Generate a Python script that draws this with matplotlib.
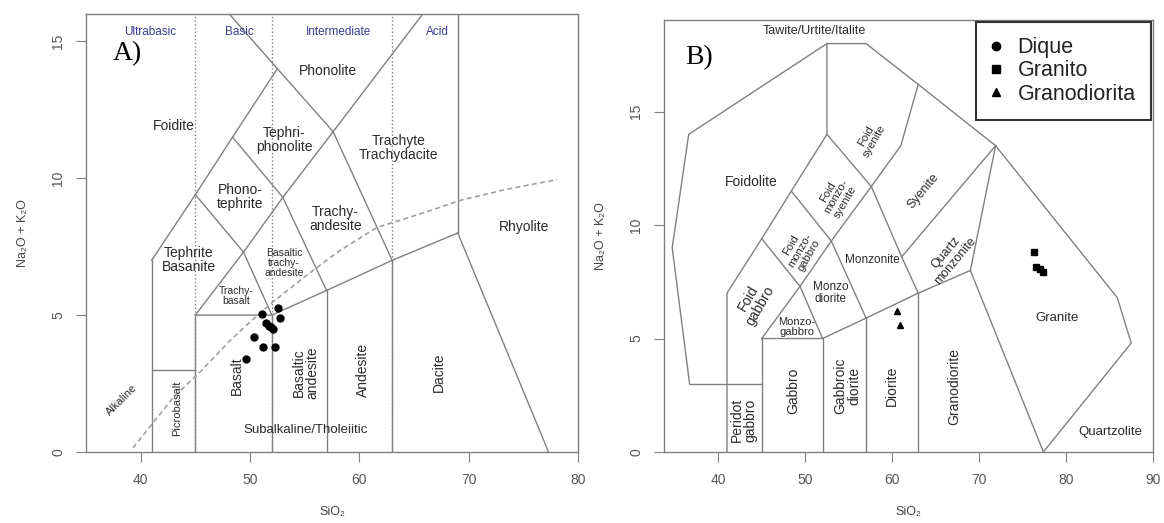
import matplotlib.pyplot as plt
from matplotlib.lines import Line2D

plt.rcParams['font.family'] = ['Liberation Sans', 'DejaVu Sans']

# Muestras (SiO2, Na2O+K2O)
dique_sio2 = [52.55, 51.13, 52.7, 51.5, 51.7, 52.1, 51.9, 50.4, 51.2, 52.3, 49.6]
dique_alk = [5.27, 5.03, 4.88, 4.72, 4.6, 4.48, 4.55, 4.19, 3.84, 3.82, 3.41]
granito_sio2 = [76.3, 76.5, 77.0, 77.4]
granito_alk = [8.8, 8.15, 8.05, 7.95]
granodiorita_sio2 = [60.55, 60.9]
granodiorita_alk = [6.2, 5.6]

# Limites del diagrama TAS (volcanicas)
tas_lines = [
    ([41, 41], [0, 7]),
    ([41, 45, 48.4, 52.5, 48.1], [7, 9.4, 11.5, 14, 16]),
    ([45, 45], [0, 5]),
    ([41, 45], [3, 3]),
    ([45, 52, 57, 63, 69], [5, 5, 5.9, 7, 8]),
    ([52, 52], [0, 5]),
    ([57, 57], [0, 5.9]),
    ([63, 63], [0, 7]),
    ([69, 77.3], [8, 0]),
    ([69, 69], [8, 16]),
    ([45, 49.4, 53, 57.6, 65.8], [5, 7.3, 9.3, 11.7, 16]),
    ([45, 49.4, 52], [9.4, 7.3, 5]),
    ([48.4, 53, 57], [11.5, 9.3, 5.9]),
    ([52.5, 57.6, 63], [14, 11.7, 7]),
]
silica_limits = [45, 52, 63]
silica_names = ['Ultrabasic', 'Basic', 'Intermediate', 'Acid']
silica_name_x = [40.9, 49.0, 58.1, 67.1]

# Linea alcalina / subalcalina
ib_sio2 = [39.3, 41, 43, 45.5, 48, 50, 52, 55, 58, 61.6, 65.6, 69.3, 73.5, 78.1]
ib_alk = [0.15, 1.0, 2.0, 2.95, 4.0, 4.75, 5.45, 6.4, 7.3, 8.2, 8.7, 9.2, 9.6, 9.95]

# Campos TAS: (nombre, x, y, rotacion, tamano)
tas_fields = [
    ('Foidite', 43.0, 11.9, 0, 10), ('Phonolite', 57.1, 13.9, 0, 10),
    ('Tephri-\nphonolite', 53.1, 11.4, 0, 10), ('Phono-\ntephrite', 49.1, 9.3, 0, 10),
    ('Trachyte\nTrachydacite', 63.6, 11.1, 0, 10), ('Trachy-\nandesite', 57.8, 8.5, 0, 10),
    ('Basaltic\ntrachy-\nandesite', 53.1, 6.9, 0, 7.5), ('Trachy-\nbasalt', 48.7, 5.7, 0, 7.5),
    ('Tephrite\nBasanite', 44.4, 7.0, 0, 10), ('Rhyolite', 75.1, 8.2, 0, 10),
    ('Picrobasalt', 43.3, 1.6, 90, 8), ('Basalt', 48.8, 2.8, 90, 10),
    ('Basaltic\nandesite', 55.1, 2.9, 90, 10), ('Andesite', 60.3, 3.0, 90, 10),
    ('Dacite', 67.3, 2.9, 90, 10), ('Subalkaline/Tholeiitic', 55.1, 0.8, 0, 9.5),
    ('Alkaline', 38.3, 1.9, 45, 8),
]

# Limites del diagrama de Middlemost (plutonicas)
mid_lines = [
    ([36.7, 34.7, 36.6, 52.5, 57, 63, 71.9, 85.9, 87.5, 77.4],
     [3, 9, 14, 18, 18, 16.2, 13.5, 6.8, 4.8, 0]),
    ([36.7, 45], [3, 3]),
    ([41, 41, 45, 48.4, 52.5, 52.5], [0, 7, 9.4, 11.5, 14, 18]),
    ([45, 45], [0, 5]),
    ([45, 52, 57, 63, 69], [5, 5, 5.9, 7, 8]),
    ([52, 52], [0, 5]),
    ([57, 57], [0, 5.9]),
    ([63, 63], [0, 7]),
    ([69, 77.4], [8, 0]),
    ([45, 49.4, 53, 57.6, 61, 63], [5, 7.3, 9.3, 11.7, 13.5, 16.2]),
    ([45, 49.4, 52], [9.4, 7.3, 5]),
    ([48.4, 53, 57], [11.5, 9.3, 5.9]),
    ([52.5, 57.6, 61.1, 63], [14, 11.7, 8.6, 7]),
    ([61.1, 71.9], [8.6, 13.5]),
    ([69, 71.9], [8, 13.5]),
]
mid_fields = [
    ('Tawite/Urtite/Italite', 51.1, 18.55, 0, 9), ('Foidolite', 43.8, 11.9, 0, 10),
    ('Foid\ngabbro', 44.1, 6.6, 60, 10), ('Foid\nmonzo-\ngabbro', 49.4, 8.9, 60, 8),
    ('Foid\nmonzo-\nsyenite', 53.6, 11.25, 60, 8), ('Foid\nsyenite', 57.5, 13.8, 60, 8),
    ('Syenite', 63.6, 11.5, 50, 9), ('Quartz\nmonzonite', 66.7, 8.6, 50, 9),
    ('Monzonite', 57.7, 8.46, 0, 8.5), ('Monzo\ndiorite', 52.9, 7.0, 0, 8.5),
    ('Monzo-\ngabbro', 49.0, 5.5, 0, 8), ('Gabbro', 48.6, 2.7, 90, 10),
    ('Peridot\ngabbro', 42.9, 1.4, 90, 10), ('Gabbroic\ndiorite', 54.8, 2.9, 90, 10),
    ('Diorite', 60.0, 2.9, 90, 10), ('Granodiorite', 67.2, 2.9, 90, 10),
    ('Granite', 79.0, 5.9, 0, 9.5), ('Quartzolite', 85.1, 0.9, 0, 9.5),
]

line_color = '#808080'
text_color = '#2a2a2a'


# Estilo comun de los ejes (tipo R)
def style_axes(ax, xlim, ylim, xticks):
    ax.set_xlim(xlim)
    ax.set_ylim(ylim)
    ax.set_xticks(xticks)
    ax.set_yticks([0, 5, 10, 15])
    for lbl in ax.get_yticklabels():
        lbl.set_rotation(90)
        lbl.set_va('center')
    ax.tick_params(length=7, width=0.8, color=line_color, labelcolor='#555555',
                   labelsize=10, pad=8)
    for s in ax.spines.values():
        s.set_color(line_color)
        s.set_linewidth(1)
    ax.set_xlabel('SiO₂', fontsize=9, color='#444444', labelpad=14)
    ax.set_ylabel('Na₂O + K₂O', fontsize=9, color='#444444', labelpad=16)


def draw_fields(ax, lines, fields):
    for xs, ys in lines:
        ax.plot(xs, ys, color=line_color, lw=1, solid_joinstyle='miter')
    for name, x, y, rot, size in fields:
        ax.text(x, y, name, ha='center', va='center', rotation=rot,
                fontsize=size, color=text_color, linespacing=1.0)


fig = plt.figure(figsize=(11.64, 5.23), dpi=100)

# Panel A: TAS volcanico
ax1 = fig.add_axes([0.0739, 0.1358, 0.4227, 0.8375])
draw_fields(ax1, tas_lines, tas_fields)
for x in silica_limits:
    ax1.plot([x, x], [0, 16], color=line_color, lw=1, ls=':')
for name, x in zip(silica_names, silica_name_x):
    ax1.text(x, 15.35, name, ha='center', va='center', fontsize=8.5, color='#3b3b8f')
ax1.plot(ib_sio2, ib_alk, color='#a0a0a0', lw=1.2, ls=(0, (3, 2)))
ax1.plot(dique_sio2, dique_alk, 'o', color='black', ms=5)
ax1.text(37.4, 14.55, 'A)', fontsize=20, family='Liberation Serif', va='center')
style_axes(ax1, (35, 80), (0, 16), [40, 50, 60, 70, 80])

# Panel B: TAS plutonico (Middlemost)
ax2 = fig.add_axes([0.5704, 0.1358, 0.4201, 0.8260])
draw_fields(ax2, mid_lines, mid_fields)
ax2.plot(granito_sio2, granito_alk, 's', color='black', ms=4.5)
ax2.plot(granodiorita_sio2, granodiorita_alk, '^', color='black', ms=4.5)
ax2.text(36.2, 17.4, 'B)', fontsize=20, family='Liberation Serif', va='center')
style_axes(ax2, (33.75, 90), (0, 19.04), [40, 50, 60, 70, 80, 90])

handles = [Line2D([], [], ls='none', marker=m, color='black', ms=6)
           for m in ['o', 's', '^']]
leg = ax2.legend(handles, ['Dique', 'Granito', 'Granodiorita'], loc='upper right',
                 fontsize=15.5, frameon=True, fancybox=False, borderaxespad=0.1,
                 borderpad=0.7, handlelength=0.44, handletextpad=0.77,
                 labelspacing=0.1)
leg.get_frame().set_edgecolor('black')
leg.get_frame().set_linewidth(1.5)
for t in leg.get_texts():
    t.set_color('#222222')

plt.savefig('out.png', dpi=100)
